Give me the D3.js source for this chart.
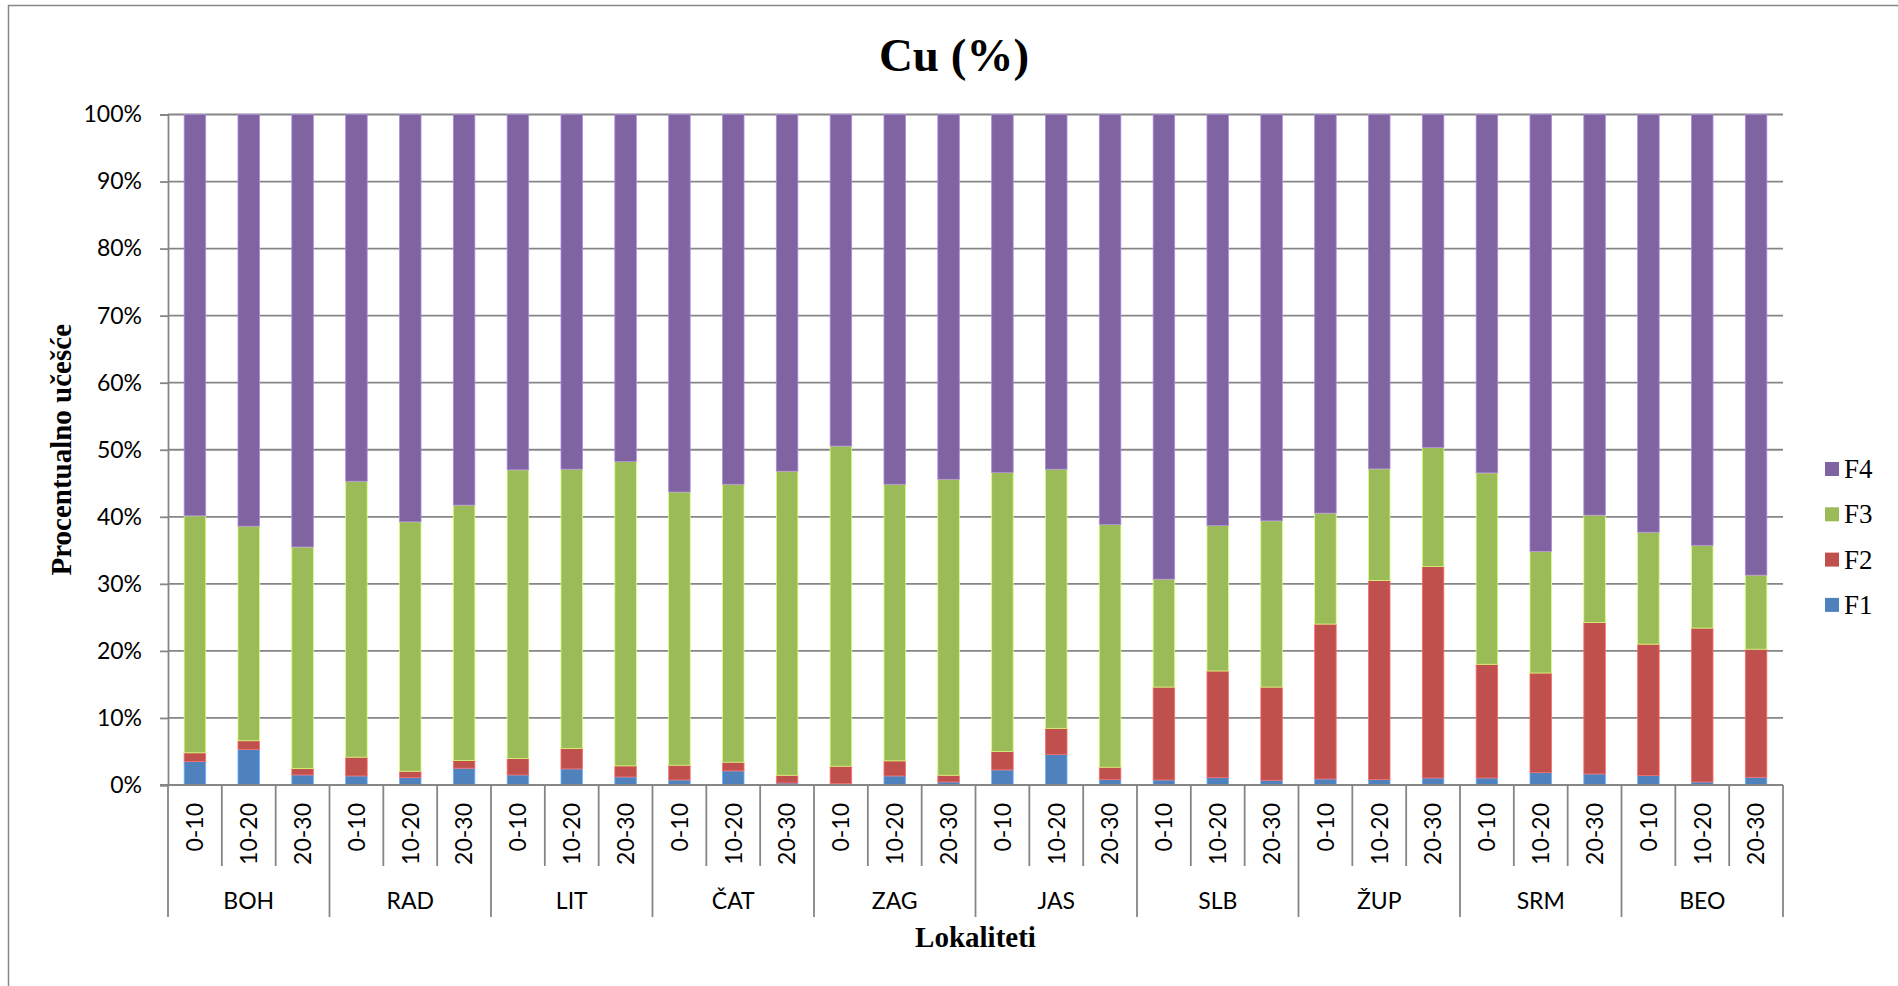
<!DOCTYPE html>
<html>
<head>
<meta charset="utf-8">
<script src="https://cdn.jsdelivr.net/npm/d3@7"></script>
<style>
  html, body { margin: 0; padding: 0; background: #fff; }
  svg { display: block; }
</style>
</head>
<body>
<svg id="chart" width="1898" height="986"></svg>
<script>
// ---------- data ----------
const locations = ["BOH", "RAD", "LIT", "ČAT", "ZAG", "JAS", "SLB", "ŽUP", "SRM", "BEO"];
const depths = ["0-10", "10-20", "20-30"];
const seriesNames = ["F1", "F2", "F3", "F4"];
const seriesColors = ["#4F81BD", "#C0504D", "#9BBB59", "#8064A2"];
const yTicks = [0, 10, 20, 30, 40, 50, 60, 70, 80, 90, 100];

// percent shares per bar (order: location × depth)
const F1 = [3.5, 5.3, 1.5,  1.35, 1.1, 2.5,  1.5, 2.4, 1.2,  0.75, 2.1, 0.3,  0.2, 1.35, 0.45,
            2.25, 4.55, 0.8,  0.75, 1.1, 0.7,  0.9, 0.8, 1.05,  1.05, 1.85, 1.65,  1.4, 0.45, 1.15];
const F2 = [1.3, 1.3, 0.95,  2.8, 0.95, 1.15,  2.45, 3.05, 1.65,  2.2, 1.3, 1.15,  2.6, 2.25, 1.0,
            2.75, 3.9, 1.85,  13.85, 15.9, 13.9,  23.1, 29.7, 31.55,  16.95, 14.85, 22.6,  19.6, 22.95, 19.1];
const F3 = [35.35, 32.0, 33.05,  41.15, 37.2, 38.1,  43.05, 41.65, 45.4,  40.75, 41.45, 45.35,  47.75, 41.25, 44.15,
            41.6, 38.65, 36.2,  16.1, 21.7, 24.8,  16.55, 16.65, 17.75,  28.55, 18.15, 16.0,  16.7, 12.35, 11.05];
const F4 = [59.85, 61.4, 64.5,  54.7, 60.75, 58.25,  53.0, 52.9, 51.75,  56.3, 55.15, 53.2,  49.45, 55.15, 54.4,
            53.4, 52.9, 61.15,  69.3, 61.3, 60.6,  59.45, 52.85, 49.65,  53.45, 65.15, 59.75,  62.3, 64.25, 68.7];

const titleText = "Cu (%)";
const yTitle = "Procentualno učešće";
const xTitle = "Lokaliteti";

// ---------- build table ----------
const rows = [];
locations.forEach((loc, li) => depths.forEach((d, di) => {
  const i = li * 3 + di;
  rows.push({ key: loc + "|" + d, loc, depth: d, F1: F1[i], F2: F2[i], F3: F3[i], F4: F4[i] });
}));

const svg = d3.select("#chart");
const W = 1898, H = 986;
const plot = { left: 168, right: 1783, top: 114.5, bottom: 785 };
const gray = "#868686";
const sans = "Lato, 'Open Sans', sans-serif";
const serif = "'Liberation Serif', 'Times New Roman', serif";
const sansSize = 23;

// chart border
svg.append("rect").attr("x", 8.5).attr("y", 5.5).attr("width", W + 10).attr("height", H + 10)
  .attr("fill", "#fff").attr("stroke", gray).attr("stroke-width", 1.5);

const x = d3.scaleBand().domain(rows.map(r => r.key)).range([plot.left, plot.right]).padding(0);
const y = d3.scaleLinear().domain([0, 100]).range([plot.bottom, plot.top]);

// gridlines
svg.append("g").selectAll("line").data(yTicks.filter(t => t > 0)).join("line")
  .attr("x1", plot.left).attr("x2", plot.right)
  .attr("y1", d => y(d)).attr("y2", d => y(d))
  .attr("stroke", gray).attr("stroke-width", 1.8);

// y axis
const yAxis = d3.axisLeft(y).tickValues(yTicks).tickSize(8).tickPadding(18).tickFormat(d => d + "%");
const gy = svg.append("g").attr("transform", `translate(${plot.left},0)`).call(yAxis);
gy.select(".domain").attr("stroke", gray).attr("stroke-width", 1.8);
gy.selectAll(".tick line").attr("stroke", gray).attr("stroke-width", 1.8);
gy.selectAll(".tick text").attr("font-family", sans).attr("font-size", sansSize).attr("fill", "#000");

// stacked bars
const stack = d3.stack().keys(seriesNames)(rows);
const color = d3.scaleOrdinal().domain(seriesNames).range(seriesColors);
const bw = x.bandwidth() * 0.4;
svg.append("g").selectAll("g").data(stack).join("g")
  .attr("fill", d => color(d.key))
  .attr("stroke", d => d3.color(color(d.key)).brighter(0.9))
  .attr("stroke-width", 0.8)
  .selectAll("rect").data(d => d).join("rect")
  .attr("x", d => x(d.data.key) + (x.bandwidth() - bw) / 2)
  .attr("width", bw)
  .attr("y", d => y(d[1]))
  .attr("height", d => y(d[0]) - y(d[1]));

// x axis line
svg.append("line").attr("x1", plot.left - 8).attr("x2", plot.right)
  .attr("y1", plot.bottom).attr("y2", plot.bottom)
  .attr("stroke", gray).attr("stroke-width", 1.8);

// separators
const bounds = d3.range(rows.length + 1);
svg.append("g").selectAll("line").data(bounds).join("line")
  .attr("x1", i => plot.left + i * x.bandwidth()).attr("x2", i => plot.left + i * x.bandwidth())
  .attr("y1", plot.bottom)
  .attr("y2", i => (i % 3 === 0) ? 917 : 866)
  .attr("stroke", gray).attr("stroke-width", 1.8);

// depth labels
svg.append("g").selectAll("text").data(rows).join("text")
  .attr("transform", d => `translate(${x(d.key) + x.bandwidth() / 2},803) rotate(-90)`)
  .attr("text-anchor", "end").attr("dy", "0.36em")
  .attr("font-family", sans).attr("font-size", sansSize).attr("fill", "#000")
  .text(d => d.depth);

// location labels
const gw = x.bandwidth() * 3;
svg.append("g").selectAll("text").data(locations).join("text")
  .attr("x", (d, i) => plot.left + gw * i + gw / 2).attr("y", 909)
  .attr("text-anchor", "middle")
  .attr("font-family", sans).attr("font-size", sansSize).attr("fill", "#000")
  .text(d => d);

// titles
svg.append("text").attr("x", 954).attr("y", 71).attr("text-anchor", "middle")
  .attr("font-family", serif).attr("font-weight", "bold").attr("font-size", 47).text(titleText);
svg.append("text").attr("x", (plot.left + plot.right) / 2).attr("y", 947).attr("text-anchor", "middle")
  .attr("font-family", serif).attr("font-weight", "bold").attr("font-size", 29).text(xTitle);
svg.append("text").attr("transform", `translate(71,${(plot.top + plot.bottom) / 2}) rotate(-90)`)
  .attr("text-anchor", "middle")
  .attr("font-family", serif).attr("font-weight", "bold").attr("font-size", 29).text(yTitle);

// legend (reverse order: F4 on top)
const legendItems = seriesNames.slice().reverse();
const lg = svg.append("g").selectAll("g").data(legendItems).join("g")
  .attr("transform", (d, i) => `translate(1825,${462 + i * 45.3})`);
lg.append("rect").attr("width", 14).attr("height", 14).attr("fill", d => color(d));
lg.append("text").attr("x", 19).attr("y", 16)
  .attr("font-family", serif).attr("font-size", 27).attr("fill", "#000").text(d => d);
</script>
</body>
</html>
